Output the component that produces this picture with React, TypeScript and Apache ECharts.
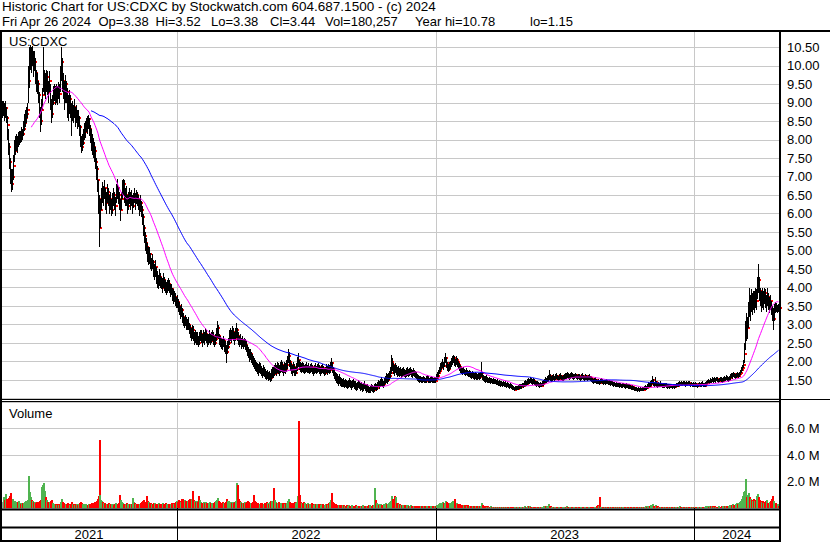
import React, { useEffect, useRef } from "react";
import * as echarts from "echarts";

// ---------- data (prices in cents, volume in thousands), one entry per weekday ending 2024-04-26 ----------
const closes = [
880,890,870,885,860,840,780,740,700,680,
700,730,770,780,800,790,800,810,805,820,
815,830,845,860,870,880,960,1000,1020,1010,
1030,990,1010,980,960,950,920,880,850,880,
920,950,960,940,970,950,930,960,900,870,
900,920,935,915,930,920,940,925,980,1010,
960,940,920,950,930,900,880,910,890,860,
880,870,890,860,870,850,860,835,800,780,
790,810,820,830,845,840,855,830,810,800,
790,780,770,740,720,690,640,560,610,640,
660,650,670,640,630,660,650,620,640,610,
630,650,640,620,660,670,650,640,610,640,
660,680,660,640,650,620,640,650,630,645,
620,640,650,635,650,640,630,615,630,610,
590,560,540,520,510,500,480,490,470,460,
470,450,440,455,430,420,410,430,420,410,
400,420,410,400,395,405,410,400,390,395,
380,370,375,365,355,360,350,340,330,340,
320,310,300,310,305,295,300,290,280,270,
285,275,260,270,255,265,260,250,265,275,
265,255,270,260,275,265,255,260,270,255,
265,270,260,250,260,275,290,270,260,255,
250,245,255,240,235,225,240,250,265,275,
265,280,270,260,275,285,270,260,255,260,
250,255,245,250,245,235,230,225,215,220,
210,205,200,195,190,185,180,175,182,178,
172,168,175,170,165,160,165,158,162,155,
160,170,165,175,180,170,185,180,175,185,
190,180,175,185,180,190,200,215,200,190,
180,175,185,178,170,180,195,205,190,185,
180,188,182,175,180,185,178,182,175,180,
185,178,172,178,183,176,180,185,178,172,
178,182,176,170,175,180,176,181,178,185,
195,180,170,165,160,155,150,148,152,145,
142,140,145,138,142,140,135,140,144,138,
134,140,142,138,135,130,135,140,136,130,
134,128,132,136,130,125,128,124,122,125,
130,126,122,128,133,128,135,140,136,142,
145,140,138,145,150,155,150,158,162,170,
180,200,190,180,175,182,176,170,175,168,
172,166,170,174,168,165,170,173,168,172,
175,170,166,172,168,164,160,156,154,150,
153,150,148,152,149,146,150,154,150,146,
148,152,149,146,150,148,155,162,168,175,
182,190,195,188,198,210,195,185,180,188,
192,198,205,210,200,195,205,198,190,185,
180,176,172,175,170,168,172,168,165,168,
164,160,165,162,158,162,160,156,160,158,
162,170,158,155,152,150,154,150,147,150,
146,148,145,148,144,146,142,144,140,142,
138,140,137,139,136,138,135,137,134,132,
134,130,128,126,124,126,128,126,129,132,
130,133,136,134,138,142,140,144,148,145,
150,146,143,147,144,140,138,140,136,134,
137,135,139,142,146,150,148,152,155,162,
155,152,156,158,154,157,160,156,153,157,
160,156,152,155,158,162,160,164,160,157,
161,164,160,157,160,163,159,156,160,158,
155,158,161,157,154,157,160,156,153,156,
158,155,152,148,145,148,150,147,144,146,
143,145,148,145,142,145,143,146,144,141,
143,140,142,139,137,139,136,138,135,137,
134,136,133,135,137,134,132,135,133,131,
133,130,128,130,127,125,127,124,122,124,
122,125,123,126,124,127,130,128,132,136,
134,138,142,150,140,136,145,138,135,138,
136,139,136,133,136,134,137,135,132,134,
132,135,133,131,134,132,135,137,135,138,
140,138,141,139,142,140,138,141,139,142,
140,137,139,136,138,135,138,136,134,137,
139,136,138,140,137,135,138,141,144,147,
145,148,146,150,148,151,149,152,150,147,
150,153,151,148,151,154,152,156,153,150,
155,158,162,160,165,161,158,163,166,162,
165,170,176,182,190,220,270,300,290,330,
360,345,370,350,375,360,380,365,400,420,
390,375,360,380,365,385,370,355,375,360,
350,365,340,330,315,340,350,345,338,346,
344,
];

const highs = [
905,905,900,905,890,865,830,790,750,720,
720,760,800,810,815,810,820,825,825,835,
830,850,870,880,890,900,1000,1050,1057,1050,
1055,1040,1040,1020,990,980,960,930,890,910,
940,1050,990,980,990,985,960,985,950,910,
920,945,950,945,950,945,955,950,1000,1050,
1020,980,960,975,960,940,920,935,920,900,
905,895,910,890,895,880,880,865,840,810,
815,830,845,850,860,865,866,860,840,830,
815,805,795,780,750,730,690,650,640,670,
685,675,690,670,660,680,670,650,660,640,
655,670,660,645,680,695,675,660,640,660,
690,695,690,670,675,650,660,670,660,665,
650,655,670,655,665,660,650,640,650,635,
620,600,570,550,535,520,510,510,495,480,
490,475,465,475,455,445,435,450,440,430,
425,440,430,420,415,420,425,420,410,410,
400,395,390,385,375,380,370,360,350,355,
345,330,320,325,320,315,320,305,300,290,
300,295,280,285,275,280,280,270,280,285,
285,275,285,280,290,285,275,275,285,275,
280,285,280,270,275,290,310,300,275,270,
265,262,270,260,255,245,255,265,285,290,
285,295,290,280,290,305,290,280,270,275,
265,270,260,265,262,255,245,240,235,235,
225,220,215,210,205,200,195,192,198,195,
188,182,190,185,180,175,178,172,175,170,
180,185,185,190,195,190,200,195,190,200,
205,198,190,198,195,205,215,235,225,205,
195,190,198,192,185,195,212,222,205,198,
195,200,195,190,192,198,190,195,188,192,
196,190,185,190,195,188,192,197,190,185,
190,194,188,183,186,192,188,193,190,200,
210,200,185,178,172,168,165,160,165,158,
155,152,155,150,152,150,148,150,155,150,
146,150,154,148,146,142,145,150,148,142,
144,140,142,146,140,136,138,134,132,135,
140,136,134,138,142,138,145,150,148,152,
158,152,148,155,160,168,165,170,175,185,
195,218,210,195,190,196,190,184,188,182,
185,180,182,186,180,176,182,184,180,183,
186,180,178,182,178,175,172,166,164,160,
162,158,158,160,158,155,160,163,160,156,
158,162,158,156,158,157,165,172,177,185,
195,200,206,200,212,222,212,198,192,198,
202,210,215,218,215,208,216,210,202,196,
190,186,182,185,180,178,182,178,175,177,
174,170,175,172,168,172,170,166,170,168,
172,198,172,164,162,160,163,158,156,158,
155,156,153,156,152,154,150,152,148,150,
146,148,145,147,144,146,143,145,142,140,
142,138,136,134,132,133,135,134,136,139,
138,140,143,142,146,150,148,152,156,154,
158,155,152,155,152,148,146,147,144,142,
144,143,147,150,154,158,156,160,163,177,
165,160,164,166,162,165,168,164,161,165,
168,164,160,163,166,170,168,172,168,165,
169,172,168,165,167,170,166,164,167,165,
162,165,168,164,161,164,167,163,160,163,
166,162,159,156,153,155,157,154,151,153,
150,152,155,152,149,151,150,153,150,148,
150,147,148,146,144,145,143,144,142,143,
141,142,140,141,143,140,139,141,139,138,
139,136,135,136,133,131,132,130,128,130,
128,131,129,132,130,133,136,134,140,145,
142,146,150,160,152,144,158,146,142,145,
143,146,143,140,142,141,143,141,138,140,
138,140,139,137,139,138,140,142,141,144,
146,144,147,145,148,146,144,147,145,148,
146,143,145,142,144,141,144,142,140,143,
145,142,144,146,143,141,144,147,150,153,
151,155,153,157,155,158,156,158,157,154,
156,159,157,155,158,161,159,163,160,157,
162,166,170,168,172,169,166,170,173,170,
172,178,184,190,205,250,310,330,320,360,
400,380,395,385,390,390,400,395,430,465,
430,400,390,400,390,400,395,380,400,385,
375,380,365,350,345,355,360,358,352,356,
352,
];

const lows = [
860,865,850,860,845,800,760,720,680,660,
665,690,740,760,770,765,780,785,790,795,
800,810,825,835,845,860,900,940,990,980,
1000,970,985,950,930,925,900,860,820,840,
880,930,920,910,930,920,900,930,880,845,
860,895,905,895,900,895,910,900,930,960,
930,910,880,900,900,860,850,870,860,810,
850,845,860,835,845,830,835,810,780,765,
770,785,800,805,820,815,830,810,790,770,
760,750,740,720,690,660,600,510,560,610,
630,620,640,610,600,630,620,600,610,595,
600,620,610,595,630,640,625,610,580,610,
640,650,630,620,620,600,610,625,610,620,
600,615,630,610,625,620,610,595,605,590,
570,540,520,500,490,470,460,465,450,445,
450,430,420,430,410,400,395,405,400,395,
385,400,390,385,380,385,390,385,375,380,
365,355,360,350,345,345,335,325,315,320,
305,295,290,295,285,285,285,275,265,255,
260,255,245,250,245,250,245,240,245,255,
250,240,250,245,255,250,240,245,250,245,
250,255,245,240,245,255,265,260,245,240,
235,230,240,225,220,195,220,235,245,255,
250,260,255,245,255,265,255,245,240,245,
235,240,235,238,232,225,215,210,200,205,
195,190,185,180,175,172,165,162,168,165,
160,155,160,158,152,150,152,148,150,145,
148,155,155,160,165,160,170,165,160,170,
172,168,162,168,165,172,180,195,185,175,
165,160,168,162,160,165,175,185,178,172,
168,172,170,165,168,172,168,170,165,168,
172,166,162,166,170,165,168,172,166,162,
165,170,165,160,163,168,164,168,166,170,
178,170,160,152,148,142,138,135,140,135,
132,130,132,128,132,128,125,128,132,128,
124,128,130,126,124,120,124,128,126,120,
122,118,120,125,120,116,117,115,115,115,
120,117,115,118,122,120,124,130,126,132,
134,130,128,134,138,142,140,145,150,156,
165,178,175,165,162,168,163,158,162,157,
160,156,158,162,158,155,158,162,157,160,
163,158,156,160,157,155,152,148,145,142,
144,142,142,144,142,142,143,146,143,142,
142,144,142,142,143,142,146,152,158,165,
172,178,183,178,185,195,182,175,172,175,
180,185,190,195,188,185,190,186,180,175,
170,166,164,165,163,162,164,160,157,158,
155,152,155,153,150,153,151,150,152,150,
152,158,150,147,145,143,145,143,142,142,
140,141,139,140,138,139,136,137,134,135,
132,133,131,133,130,132,129,131,128,126,
128,125,123,122,121,122,123,122,124,126,
125,127,130,129,132,135,134,137,140,138,
142,139,136,139,137,134,132,133,130,129,
130,130,133,135,139,142,141,144,147,150,
148,145,148,150,147,149,152,149,146,150,
152,149,146,148,151,154,153,156,153,150,
154,156,153,150,153,155,152,149,152,151,
148,150,153,150,147,150,152,149,146,149,
151,148,145,142,140,141,143,140,138,139,
137,138,141,139,136,138,137,139,138,136,
137,135,136,134,132,133,131,132,130,131,
129,130,128,129,131,128,127,129,128,126,
127,125,123,124,122,120,121,119,118,119,
118,120,119,121,120,122,124,123,126,130,
128,131,134,138,134,130,135,132,129,131,
130,132,130,128,129,128,130,129,127,128,
127,129,128,127,128,127,129,131,130,132,
134,133,135,133,136,134,132,135,133,136,
134,131,133,130,132,130,132,131,129,131,
133,131,132,134,132,130,132,135,138,141,
140,142,141,144,142,145,143,146,144,142,
144,147,145,143,145,148,146,149,147,145,
148,151,155,154,157,155,152,156,159,156,
158,163,168,174,182,195,230,255,260,290,
320,310,335,325,340,330,345,340,370,385,
365,350,335,345,340,355,345,335,350,340,
330,340,325,310,285,310,330,335,330,335,
338,
];

const volumes = [
450,820,600,1050,680,520,780,900,1150,700,
650,480,560,420,380,450,520,360,300,410,
350,380,420,550,480,620,2450,1200,850,600,
520,480,450,380,420,350,460,520,600,1600,
1750,1900,1300,850,600,450,380,420,550,620,
350,300,280,320,260,300,250,280,420,650,
480,360,300,280,330,380,300,260,320,450,
300,280,250,320,280,260,300,350,420,380,
300,260,280,320,260,240,300,280,320,350,
300,380,420,480,520,650,900,5150,950,600,
500,420,380,350,300,320,280,350,300,330,
280,300,260,320,380,300,280,350,1000,600,
450,380,320,300,280,350,300,260,320,280,
300,750,420,350,300,280,320,260,300,350,
420,550,600,480,450,900,500,420,380,350,
320,300,350,400,320,300,280,350,300,260,
320,380,300,280,350,300,260,320,280,300,
350,400,320,380,420,500,450,600,520,480,
700,650,550,600,500,450,520,600,700,550,
650,1300,600,500,450,550,480,900,600,450,
400,380,420,350,450,400,380,350,420,380,
350,400,380,450,500,600,750,550,450,400,
380,420,350,400,450,700,550,500,450,420,
400,450,380,420,500,1850,1750,700,500,450,
400,380,350,420,380,450,500,420,380,350,
400,450,950,500,420,380,350,300,320,380,
350,320,300,350,380,420,350,300,450,550,
500,420,1500,600,450,380,350,420,380,350,
320,380,350,300,350,400,550,650,480,400,
350,400,380,350,420,380,450,900,6600,1000,
450,400,350,420,380,300,320,350,300,280,
300,350,280,260,300,320,280,250,300,270,
250,280,300,260,240,280,300,260,350,450,
600,1100,450,350,300,280,250,220,250,200,
220,180,200,250,180,160,200,180,220,150,
180,200,160,150,180,200,170,150,180,160,
150,180,200,160,150,180,140,160,200,220,
180,160,200,250,1500,600,350,300,250,280,
300,250,220,280,300,350,280,320,400,450,
550,900,700,450,900,850,400,350,300,280,
250,220,200,250,220,180,200,220,180,160,
200,180,160,150,180,160,150,140,160,150,
140,160,150,130,150,140,120,150,130,140,
150,130,120,140,130,150,200,250,300,350,
400,380,450,350,400,550,450,380,320,350,
400,450,500,420,700,400,350,320,300,280,
250,220,200,250,220,200,180,200,160,180,
150,170,160,140,150,130,140,120,150,130,
140,350,200,150,130,120,110,130,120,100,
110,120,100,90,110,100,90,100,80,90,
100,80,90,70,80,90,80,70,90,80,
70,60,80,70,60,70,80,70,60,80,
90,70,80,90,100,120,100,110,130,120,
150,100,90,110,100,90,80,90,100,80,
90,80,100,110,130,150,120,140,160,300,
150,120,110,100,90,100,110,90,80,100,
90,80,90,100,110,90,100,120,90,80,
100,110,90,80,100,90,80,90,100,80,
70,90,80,70,80,90,80,70,80,90,
70,60,80,90,100,80,90,120,200,120,
850,100,90,80,100,90,80,90,70,80,
60,70,80,60,70,80,60,70,80,60,
70,50,60,70,80,60,70,60,50,70,
60,80,70,60,50,60,70,80,60,50,
70,60,80,90,70,100,120,100,150,180,
140,200,220,300,180,150,250,150,120,100,
110,90,100,80,90,100,80,90,70,80,
90,70,80,60,70,80,90,100,80,110,
120,90,100,80,90,70,80,90,70,100,
80,70,90,80,70,60,80,70,90,80,
100,70,80,90,70,80,100,120,150,130,
110,140,120,150,130,110,120,100,90,110,
130,100,90,120,140,130,150,170,140,130,
180,200,250,220,300,250,200,280,350,300,
400,450,550,650,900,1200,1300,2200,800,1000,
1100,800,700,600,550,650,500,600,900,1050,
800,600,500,450,550,400,450,500,600,400,
350,450,500,650,900,550,400,350,300,280,
180,
];

const LAST_DAY = "2024-04-26";
const FAST_MA = 30;
const SLOW_MA = 90;
const TITLE = "Historic Chart for US:CDXC by Stockwatch.com 604.687.1500 - (c) 2024";
const STATS = ["Fri Apr 26 2024", "Op=3.38", "Hi=3.52", "Lo=3.38", "Cl=3.44", "Vol=180,257", "Year hi=10.78", "lo=1.15"];
const STATS_X = [2, 98.5, 155.5, 211, 270, 325, 415, 530];
const SYMBOL = "US:CDXC";
const VOLUME_TITLE = "Volume";

const FONT = '"Liberation Sans", Arial, Helvetica, sans-serif';
const GRID_GRAY = "#c8c8c8";

function weekdaysEnding(endIso: string, n: number): string[] {
  const out: string[] = [];
  const d = new Date(endIso + "T00:00:00Z");
  while (out.length < n) {
    const wd = d.getUTCDay();
    if (wd !== 0 && wd !== 6) out.unshift(d.toISOString().slice(0, 10));
    d.setUTCDate(d.getUTCDate() - 1);
  }
  return out;
}

function sma(vals: number[], n: number): (number | string)[] {
  return vals.map((_, i) => {
    if (i < n - 1) return "-";
    let s = 0;
    for (let k = i - n + 1; k <= i; k++) s += vals[k];
    return +(s / n / 100).toFixed(4);
  });
}

export default function App() {
  const ref = useRef<HTMLDivElement>(null);

  useEffect(() => {
    if (!ref.current) return;
    const chart = echarts.init(ref.current, null, { renderer: "svg" });
    const n = Math.min(closes.length, highs.length, lows.length, volumes.length);
    const dates = weekdaysEnding(LAST_DAY, n);

    const yearStarts = new Set<number>();
    const yearMids = new Set<number>();
    let segStart = 0;
    for (let i = 1; i <= n; i++) {
      if (i === n || dates[i].slice(0, 4) !== dates[i - 1].slice(0, 4)) {
        yearMids.add(Math.floor((segStart + i - 1) / 2));
        if (i < n) yearStarts.add(i);
        segStart = i;
      }
    }

    const priceData = [];
    const volData = [];
    for (let i = 0; i < n; i++) {
      priceData.push([i, highs[i] / 100, lows[i] / 100, closes[i] / 100]);
      const dir = i === 0 ? 0 : Math.sign(closes[i] - closes[i - 1]);
      volData.push([i, volumes[i] * 1000, dir]);
    }
    const cl = closes.slice(0, n);
    const maFast = sma(cl, FAST_MA);
    const maSlow = sma(cl, SLOW_MA);

    const txt = (text: string, x: number, y: number, size: number) => ({
      type: "text",
      x,
      y,
      z: 50,
      silent: true,
      style: { text, fontSize: size, fontFamily: FONT, fill: "#000", verticalAlign: "middle", align: "left" },
    });
    const ln = (x1: number, y1: number, x2: number, y2: number, w: number) => ({
      type: "line",
      z: 100,
      silent: true,
      shape: { x1, y1, x2, y2 },
      style: { stroke: "#000", lineWidth: w },
    });

    const option: any = {
      animation: false,
      backgroundColor: "#fff",
      grid: [
        { left: 2, right: 51, top: 31, height: 367.5 },
        { left: 2, right: 51, top: 402, height: 106 },
      ],
      xAxis: [
        {
          type: "category",
          gridIndex: 0,
          data: dates,
          boundaryGap: true,
          axisLine: { show: false },
          axisTick: { show: false },
          axisLabel: { show: false },
          splitLine: { show: true, interval: (i: number) => yearStarts.has(i), lineStyle: { color: GRID_GRAY, width: 1 } },
        },
        {
          type: "category",
          gridIndex: 1,
          data: dates,
          boundaryGap: true,
          axisLine: { show: false },
          axisTick: { show: true, interval: (i: number) => yearStarts.has(i), length: 33, lineStyle: { color: "#000", width: 1 } },
          axisLabel: {
            show: true,
            interval: (i: number) => yearMids.has(i),
            formatter: (v: string) => v.slice(0, 4),
            margin: 26,
            verticalAlign: "middle",
            fontSize: 13,
            fontFamily: FONT,
            color: "#000",
          },
          splitLine: { show: true, interval: (i: number) => yearStarts.has(i), lineStyle: { color: GRID_GRAY, width: 1 } },
        },
      ],
      yAxis: [
        {
          type: "value",
          gridIndex: 0,
          position: "right",
          min: 1,
          max: 10.943,
          interval: 0.5,
          axisLine: { show: false },
          axisTick: { show: false },
          splitLine: { show: true, lineStyle: { color: GRID_GRAY, width: 1 } },
          axisLabel: {
            formatter: (v: number) => v.toFixed(2),
            showMinLabel: false,
            showMaxLabel: false,
            margin: 8,
            fontSize: 13,
            fontFamily: FONT,
            color: "#000",
          },
        },
        {
          type: "value",
          gridIndex: 1,
          position: "right",
          min: 0,
          max: 8000000,
          interval: 2000000,
          axisLine: { show: false },
          axisTick: { show: false },
          splitLine: { show: true, lineStyle: { color: GRID_GRAY, width: 1 } },
          axisLabel: {
            formatter: (v: number) => (v === 0 ? "" : (v / 1e6).toFixed(1) + " M"),
            showMinLabel: false,
            showMaxLabel: false,
            margin: 8,
            fontSize: 13,
            fontFamily: FONT,
            color: "#000",
          },
        },
      ],
      series: [
        {
          type: "custom",
          name: "price",
          xAxisIndex: 0,
          yAxisIndex: 0,
          silent: true,
          z: 2,
          encode: { x: 0, y: [1, 2, 3] },
          data: priceData,
          renderItem: (_p: any, api: any) => {
            const i = api.value(0);
            const hi = api.coord([i, api.value(1)]);
            const lo = api.coord([i, api.value(2)]);
            const c = api.coord([i, api.value(3)]);
            const x = Math.round(hi[0]) + 0.5;
            const y1 = Math.round(hi[1]);
            let y2 = Math.round(lo[1]);
            if (y2 - y1 < 1) y2 = y1 + 1;
            return {
              type: "group",
              children: [
                { type: "line", shape: { x1: x, y1, x2: x, y2 }, style: { stroke: "#000", lineWidth: 1 } },
                { type: "rect", shape: { x: x + 0.5, y: Math.round(c[1]) - 1, width: 2, height: 2 }, style: { fill: "#ff0000" } },
              ],
            };
          },
        },
        {
          type: "line",
          name: "ma fast",
          xAxisIndex: 0,
          yAxisIndex: 0,
          data: maFast,
          symbol: "none",
          silent: true,
          z: 4,
          lineStyle: { color: "#ff00ff", width: 1 },
        },
        {
          type: "line",
          name: "ma slow",
          xAxisIndex: 0,
          yAxisIndex: 0,
          data: maSlow,
          symbol: "none",
          silent: true,
          z: 4,
          lineStyle: { color: "#0000ff", width: 1 },
        },
        {
          type: "custom",
          name: "volume",
          xAxisIndex: 1,
          yAxisIndex: 1,
          silent: true,
          z: 2,
          encode: { x: 0, y: 1 },
          data: volData,
          renderItem: (_p: any, api: any) => {
            const i = api.value(0);
            const top = api.coord([i, api.value(1)]);
            const base = api.coord([i, 0]);
            const d = api.value(2);
            const color = d > 0 ? "#50b450" : d < 0 ? "#ff0000" : "#a0a0a0";
            const x = Math.round(top[0] - 0.5);
            const yt = Math.min(Math.round(top[1]), Math.round(base[1]) - 1);
            return {
              type: "rect",
              shape: { x, y: yt, width: 2, height: Math.round(base[1]) - yt },
              style: { fill: color },
            };
          },
        },
      ],
      graphic: [
        txt(TITLE, 2, 6.3, 13.5),
        ...STATS.map((s, k) => txt(s, STATS_X[k], 21.8, 13)),
        { ...txt(SYMBOL, 9, 41.8, 13), z: 0 },
        { ...txt(VOLUME_TITLE, 9, 413, 13), z: 0 },
        ln(0, 31, 830, 31, 2),
        ln(1, 30, 1, 542, 2),
        ln(780, 30, 780, 542, 2),
        ln(0, 399.5, 830, 399.5, 1),
        ln(0, 401.5, 780, 401.5, 1),
        ln(0, 509.5, 780, 509.5, 2),
        ln(0, 527.5, 780, 527.5, 2),
        ln(0, 541, 780, 541, 2),
      ],
    };

    chart.setOption(option);
    return () => chart.dispose();
  }, []);

  return (
    <div
      ref={ref}
      style={{ position: "fixed", left: 0, top: 0, width: 830, height: 543, background: "#fff" }}
    />
  );
}
